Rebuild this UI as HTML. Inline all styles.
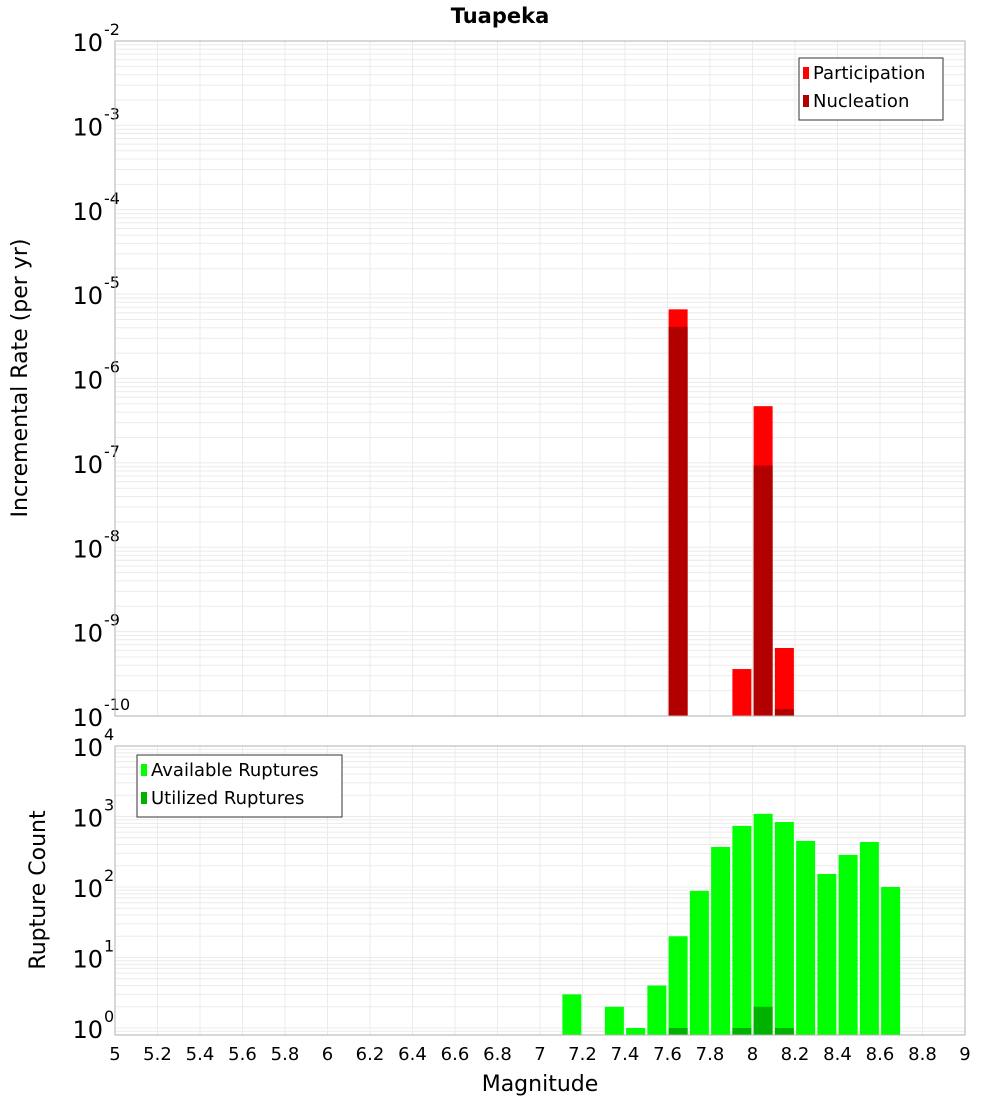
<!DOCTYPE html>
<html><head><meta charset="utf-8"><style>
body{margin:0;background:#fff;}
svg{display:block;font-family:"DejaVu Sans","Liberation Sans",sans-serif;}
</style></head><body>
<svg id="chart" width="1000" height="1100" xmlns="http://www.w3.org/2000/svg">
<text x="500" y="23" text-anchor="middle" font-size="21" font-weight="bold">Tuapeka</text>
<g id="topPanel"></g><g id="botPanel"></g>
<text x="540" y="1091" text-anchor="middle" font-size="22">Magnitude</text>
<text transform="translate(27,378) rotate(-90)" text-anchor="middle" font-size="22">Incremental Rate (per yr)</text>
<text transform="translate(45,890) rotate(-90)" text-anchor="middle" font-size="22">Rupture Count</text>
</svg>
<script>
const xTicks=[5,5.2,5.4,5.6,5.8,6,6.2,6.4,6.6,6.8,7,7.2,7.4,7.6,7.8,8,8.2,8.4,8.6,8.8,9];
const rateMags=[7.65,7.95,8.05,8.15];
const participation=[6.6e-6,3.6e-10,4.7e-7,6.4e-10];
const nucleation=[4.1e-6,0,9.3e-8,1.21e-10];
const countMags=[7.15,7.35,7.45,7.55,7.65,7.75,7.85,7.95,8.05,8.15,8.25,8.35,8.45,8.55,8.65];
const available=[3,2,1,4,20,88,370,735,1090,835,450,153,285,435,100];
const utilMags=[7.65,7.95,8.05,8.15];
const utilized=[1,1,2,1];
const topExps=[-2,-3,-4,-5,-6,-7,-8,-9,-10];
const botExps=[4,3,2,1,0];

const NS='http://www.w3.org/2000/svg';
const L=115,R=965;
const xs=m=>L+(m-5)*(R-L)/4;
const topY=v=>716-(Math.log10(v)+10)*84.375;
const botY=v=>1028-Math.log10(v)*70.5;
function mk(p,tag,a,txt){const e=document.createElementNS(NS,tag);for(const k in a)e.setAttribute(k,a[k]);if(txt!==undefined)e.textContent=txt;p.appendChild(e);return e;}

function panel(g,y0,y1,yfn,lo,hi,exps,name){
  const bg=mk(g,'rect',{x:L,y:y0,width:R-L,height:y1-y0,fill:'#fff'});
  
  
  for(let d=lo;d<hi;d++)for(let k=1;k<10;k++){const v=k*Math.pow(10,d);const y=yfn(v);if(y<y0||y>y1)continue;
    const ln=mk(g,'line',{x1:L,x2:R,y1:y,y2:y,stroke:'#ebebeb','stroke-width':1});
    
    }
  xTicks.forEach(t=>{const ln=mk(g,'line',{x1:xs(t),x2:xs(t),y1:y0,y2:y1,stroke:'#ebebeb','stroke-width':1});
    
    });
  exps.forEach(e=>{const y=yfn(Math.pow(10,e));
    const t=mk(g,'text',{x:103,y:y+10,'text-anchor':'end','font-size':24});
    
    
    t.textContent='10';
    const s=mk(g,'text',{x:104,y:y-6,'font-size':16},String(e));
    
    });
}
const topG=document.getElementById('topPanel'),botG=document.getElementById('botPanel');
panel(topG,41,716,topY,-10,-2,topExps,'top');
panel(botG,746,1035,botY,-1,4,botExps,'bottom');
const bw=19;
rateMags.forEach((m,i)=>{
  const y=topY(participation[i]);
  const r=mk(topG,'rect',{x:xs(m)-bw/2,y:y,width:bw,height:716-y,fill:'#ff0000'});
  
  
  if(nucleation[i]>0){const y2=topY(nucleation[i]);
    const n=mk(topG,'rect',{x:xs(m)-bw/2,y:y2,width:bw,height:716-y2,fill:'#b20000'});
    
    }
});
countMags.forEach((m,i)=>{const y=botY(available[i]);
  const r=mk(botG,'rect',{x:xs(m)-bw/2,y:y,width:bw,height:1035-y,fill:'#00ff00'});
  
  });
utilMags.forEach((m,i)=>{const y=botY(utilized[i]);
  const r=mk(botG,'rect',{x:xs(m)-bw/2,y:y,width:bw,height:1035-y,fill:'#00b200'});
  
  });
[[topG,41,716],[botG,746,1035]].forEach(([g,a,b])=>{const f=mk(g,'rect',{x:L,y:a,width:R-L,height:b-a,fill:'none',stroke:'#b0b0b0','stroke-width':1});
  
  });
xTicks.forEach(t=>{const lb=mk(botG,'text',{x:xs(t),y:1060,'text-anchor':'middle','font-size':18},String(t));
  
  });
function legend(g,x,y,w,items,name){
  const lg=mk(g,'g',{});
  
  
  mk(lg,'rect',{x:x,y:y,width:w,height:items.length*28+6,fill:'#fff',stroke:'#333','stroke-width':1});
  items.forEach(([lab,col],i)=>{mk(lg,'rect',{x:x+4,y:y+9+i*28,width:6,height:12,fill:col});
    mk(lg,'text',{x:x+14,y:y+21+i*28,'font-size':18},lab);});
}
legend(topG,799,58,144,[['Participation','#ff0000'],['Nucleation','#b20000']],'rate-legend');
legend(botG,137,755,205,[['Available Ruptures','#00ff00'],['Utilized Ruptures','#00b200']],'count-legend');
</script>
</body></html>
